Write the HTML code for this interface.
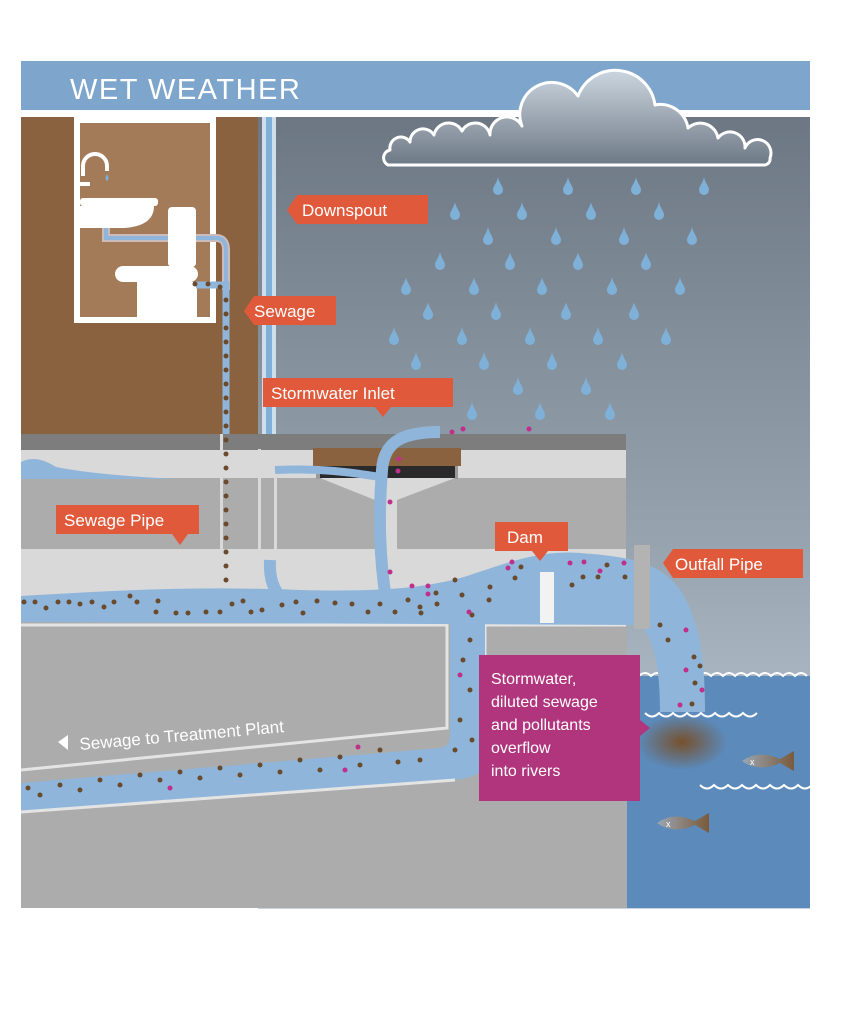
<!DOCTYPE html>
<html><head><meta charset="utf-8"><style>
html,body{margin:0;padding:0;background:#fff;}
svg{display:block;font-family:"Liberation Sans",sans-serif;}
</style></head><body>
<svg width="858" height="1011" viewBox="0 0 858 1011" xmlns="http://www.w3.org/2000/svg">
<defs>
<linearGradient id="sky" x1="0" y1="0" x2="0" y2="1">
<stop offset="0" stop-color="#6c7783"/><stop offset="0.55" stop-color="#98a5b1"/><stop offset="1" stop-color="#c6d3de"/>
</linearGradient>
<radialGradient id="glow" cx="0.5" cy="0.5" r="0.5">
<stop offset="0" stop-color="#7a4a1c" stop-opacity="0.9"/><stop offset="1" stop-color="#7a4a1c" stop-opacity="0"/>
</radialGradient>
<linearGradient id="fish" x1="0" x2="1">
<stop offset="0" stop-color="#9aa6b4"/><stop offset="1" stop-color="#7a5a3a"/>
</linearGradient>
<linearGradient id="cloud" gradientUnits="userSpaceOnUse" x1="0" y1="74" x2="0" y2="165">
<stop offset="0" stop-color="#c8d2dc"/><stop offset="1" stop-color="#6e7986"/>
</linearGradient>
<symbol id="drop" viewBox="0 0 10 18"><path d="M5 0 C6 6 10 9 10 13 A5 5 0 0 1 0 13 C0 9 4 6 5 0Z" fill="#7fb0d8"/></symbol>
</defs>

<rect x="21" y="61" width="789" height="49" fill="#7ea6cc"/>
<text x="70" y="99" font-size="29" fill="#fff" letter-spacing="1.5">WET WEATHER</text>

<rect x="258" y="117" width="552" height="792" fill="url(#sky)"/>
<rect x="627" y="676" width="183" height="232" fill="#5b8abb"/>
<path d="M627 676 q6 -6 12 0 q6 -6 12 0 q6 -6 12 0 q6 -6 12 0 q6 -6 12 0 q6 -6 12 0 q6 -6 12 0 q6 -6 12 0 q6 -6 12 0 q6 -6 12 0 q6 -6 12 0 q6 -6 12 0 q6 -6 12 0 q6 -6 12 0 q6 -6 12 0" fill="none" stroke="#fff" stroke-width="2"/>
<ellipse cx="682" cy="742" rx="45" ry="28" fill="url(#glow)"/>
<path d="M645 713 q7 7 14 0 q7 7 14 0 q7 7 14 0 q7 7 14 0 q7 7 14 0 q7 7 14 0 q7 7 14 0 q7 7 14 0" fill="none" stroke="#fff" stroke-width="2"/>
<path d="M700 785 q7 7 14 0 q7 7 14 0 q7 7 14 0 q7 7 14 0 q7 7 14 0 q7 7 14 0 q7 7 14 0 q7 7 14 0" fill="none" stroke="#fff" stroke-width="2"/>
<g><path d="M742 761 q16 -12 38 -2 l14 -8 v20 l-14 -8 q-22 10 -38 -2z" fill="url(#fish)"/><text x="750" y="765" font-size="9" fill="#fff">x</text></g>
<g><path d="M657 823 q16 -12 38 -2 l14 -8 v20 l-14 -8 q-22 10 -38 -2z" fill="url(#fish)"/><text x="666" y="827" font-size="9" fill="#fff">x</text></g>

<rect x="21" y="117" width="237" height="318" fill="#8a6240"/>
<rect x="77" y="120" width="136" height="200" fill="#a47b58" stroke="#fff" stroke-width="6"/>
<path d="M83 176 v-10 a12 12 0 0 1 24 0 v5" fill="none" stroke="#fff" stroke-width="4"/>
<rect x="80" y="182" width="10" height="4" fill="#fff"/>
<path d="M107 174 q-3 5 0 7 q3 -2 0 -7z" fill="#7fb0d8"/>
<rect x="80" y="198" width="78" height="8" rx="3" fill="#fff"/>
<path d="M80 206 h74 q0 20 -30 22 h-44z" fill="#fff"/>
<path d="M106 228 v10 h110 q10 0 10 12 v40" fill="none" stroke="#cbb" stroke-width="8"/>
<path d="M106 228 v10 h110 q10 0 10 12 v40" fill="none" stroke="#8fb6da" stroke-width="4"/>
<rect x="168" y="207" width="28" height="60" rx="4" fill="#fff"/>
<rect x="115" y="266" width="83" height="16" rx="8" fill="#fff"/>
<path d="M137 282 h60 v35 h-60z" fill="#fff"/>
<path d="M196 285 h30 v330" fill="none" stroke="#8fb6da" stroke-width="7"/>

<rect x="262" y="117" width="14" height="460" fill="#cfdeea"/>
<rect x="266" y="117" width="6" height="470" fill="#7fb0d8"/>

<rect x="21" y="434" width="605" height="16" fill="#7d7d7d"/>
<rect x="21" y="450" width="605" height="28" fill="#d9d9d9"/>
<rect x="21" y="478" width="605" height="71" fill="#acacac"/>
<rect x="21" y="549" width="605" height="72" fill="#d9d9d9"/>
<rect x="21" y="621" width="606" height="287" fill="#acacac"/>
<rect x="258" y="449" width="3" height="172" fill="#d9d9d9"/>
<rect x="220" y="434" width="3" height="187" fill="#d9d9d9"/>
<rect x="274" y="478" width="3" height="71" fill="#d9d9d9"/>
<rect x="394" y="478" width="3" height="71" fill="#d9d9d9"/>
<rect x="313" y="448" width="148" height="18" fill="#8a6240"/>
<rect x="316" y="466" width="142" height="13" fill="#9a9a9a"/>
<rect x="320" y="466" width="135" height="12" fill="#2a2a2a"/>
<path d="M320 478 L375 500 V549 h22 V500 L455 478z" fill="#d9d9d9"/>
<path d="M21 462 q15 -8 35 5 q40 8 120 12 H21z" fill="#8fb6da"/>

<path d="M21 625 H447 V728 L21 770" fill="none" stroke="#e4e4e4" stroke-width="3"/>
<path d="M485 625 H626" stroke="#e4e4e4" stroke-width="3"/>
<path d="M485 625 V655" stroke="#e4e4e4" stroke-width="3"/>

<path d="M386 600 C380 560 378 520 382 470 C384 440 405 432 440 432" fill="none" stroke="#8fb6da" stroke-width="12"/>
<path d="M275 470 C320 468 350 472 386 478" fill="none" stroke="#8fb6da" stroke-width="8"/>
<path d="M270 560 C268 600 290 610 330 608" fill="none" stroke="#8fb6da" stroke-width="12"/>

<path d="M21 596 C120 590 200 586 300 590 C380 592 430 588 470 575 C510 562 540 550 580 553 C620 556 660 560 680 590 C700 620 705 660 705 712 L660 712 C660 670 655 640 640 625 L21 622 Z" fill="#8fb6da"/>
<path d="M450 620 H485 V765 C480 775 470 778 455 780 L21 812 V783 L440 748 C450 746 450 740 450 730 Z" fill="#8fb6da"/>
<path d="M21 812 L455 780" stroke="#e4e4e4" stroke-width="3"/>
<rect x="540" y="572" width="14" height="51" fill="#f2f2f2"/>
<rect x="634" y="545" width="16" height="84" fill="#b3b3b3"/>

<g fill="#6a4a2c">
<circle cx="24" cy="602" r="2.5"/><circle cx="35" cy="602" r="2.5"/><circle cx="46" cy="608" r="2.5"/><circle cx="58" cy="602" r="2.5"/><circle cx="69" cy="602" r="2.5"/><circle cx="80" cy="604" r="2.5"/><circle cx="92" cy="602" r="2.5"/><circle cx="104" cy="607" r="2.5"/><circle cx="114" cy="602" r="2.5"/><circle cx="130" cy="596" r="2.5"/><circle cx="137" cy="602" r="2.5"/><circle cx="158" cy="601" r="2.5"/><circle cx="156" cy="612" r="2.5"/><circle cx="176" cy="613" r="2.5"/><circle cx="188" cy="613" r="2.5"/><circle cx="206" cy="612" r="2.5"/><circle cx="220" cy="612" r="2.5"/><circle cx="232" cy="604" r="2.5"/><circle cx="243" cy="601" r="2.5"/><circle cx="251" cy="612" r="2.5"/><circle cx="262" cy="610" r="2.5"/><circle cx="282" cy="605" r="2.5"/><circle cx="296" cy="602" r="2.5"/><circle cx="303" cy="613" r="2.5"/><circle cx="317" cy="601" r="2.5"/><circle cx="335" cy="603" r="2.5"/><circle cx="352" cy="604" r="2.5"/><circle cx="368" cy="612" r="2.5"/><circle cx="380" cy="604" r="2.5"/><circle cx="395" cy="612" r="2.5"/><circle cx="408" cy="600" r="2.5"/><circle cx="420" cy="607" r="2.5"/><circle cx="436" cy="593" r="2.5"/><circle cx="437" cy="604" r="2.5"/><circle cx="455" cy="580" r="2.5"/><circle cx="462" cy="595" r="2.5"/><circle cx="472" cy="615" r="2.5"/><circle cx="421" cy="613" r="2.5"/><circle cx="489" cy="600" r="2.5"/><circle cx="490" cy="587" r="2.5"/><circle cx="515" cy="578" r="2.5"/><circle cx="521" cy="567" r="2.5"/><circle cx="572" cy="585" r="2.5"/><circle cx="583" cy="577" r="2.5"/><circle cx="598" cy="577" r="2.5"/><circle cx="607" cy="565" r="2.5"/><circle cx="625" cy="577" r="2.5"/><circle cx="660" cy="625" r="2.5"/><circle cx="668" cy="640" r="2.5"/><circle cx="694" cy="657" r="2.5"/><circle cx="700" cy="666" r="2.5"/><circle cx="695" cy="683" r="2.5"/><circle cx="692" cy="704" r="2.5"/>
<circle cx="470" cy="640" r="2.5"/><circle cx="463" cy="660" r="2.5"/><circle cx="470" cy="690" r="2.5"/><circle cx="460" cy="720" r="2.5"/><circle cx="472" cy="740" r="2.5"/><circle cx="455" cy="750" r="2.5"/><circle cx="420" cy="760" r="2.5"/><circle cx="398" cy="762" r="2.5"/><circle cx="380" cy="750" r="2.5"/><circle cx="360" cy="765" r="2.5"/><circle cx="340" cy="757" r="2.5"/><circle cx="320" cy="770" r="2.5"/><circle cx="300" cy="760" r="2.5"/><circle cx="280" cy="772" r="2.5"/><circle cx="260" cy="765" r="2.5"/><circle cx="240" cy="775" r="2.5"/><circle cx="220" cy="768" r="2.5"/><circle cx="200" cy="778" r="2.5"/><circle cx="180" cy="772" r="2.5"/><circle cx="160" cy="780" r="2.5"/><circle cx="140" cy="775" r="2.5"/><circle cx="120" cy="785" r="2.5"/><circle cx="100" cy="780" r="2.5"/><circle cx="80" cy="790" r="2.5"/><circle cx="60" cy="785" r="2.5"/><circle cx="40" cy="795" r="2.5"/><circle cx="28" cy="788" r="2.5"/>
<circle cx="226" cy="300" r="2.5"/><circle cx="226" cy="314" r="2.5"/><circle cx="226" cy="328" r="2.5"/><circle cx="226" cy="342" r="2.5"/><circle cx="226" cy="356" r="2.5"/><circle cx="226" cy="370" r="2.5"/><circle cx="226" cy="384" r="2.5"/><circle cx="226" cy="398" r="2.5"/><circle cx="226" cy="412" r="2.5"/><circle cx="226" cy="426" r="2.5"/><circle cx="226" cy="440" r="2.5"/><circle cx="226" cy="454" r="2.5"/><circle cx="226" cy="468" r="2.5"/><circle cx="226" cy="482" r="2.5"/><circle cx="226" cy="496" r="2.5"/><circle cx="226" cy="510" r="2.5"/><circle cx="226" cy="524" r="2.5"/><circle cx="226" cy="538" r="2.5"/><circle cx="226" cy="552" r="2.5"/><circle cx="226" cy="566" r="2.5"/><circle cx="226" cy="580" r="2.5"/><circle cx="195" cy="284" r="2.5"/><circle cx="208" cy="284" r="2.5"/><circle cx="220" cy="287" r="2.5"/>
</g>
<g fill="#c0308a">
<circle cx="452" cy="432" r="2.5"/><circle cx="463" cy="429" r="2.5"/><circle cx="529" cy="429" r="2.5"/><circle cx="399" cy="459" r="2.5"/><circle cx="398" cy="471" r="2.5"/><circle cx="390" cy="502" r="2.5"/><circle cx="390" cy="572" r="2.5"/><circle cx="412" cy="586" r="2.5"/><circle cx="428" cy="586" r="2.5"/><circle cx="428" cy="594" r="2.5"/><circle cx="469" cy="612" r="2.5"/><circle cx="508" cy="568" r="2.5"/><circle cx="512" cy="562" r="2.5"/><circle cx="570" cy="563" r="2.5"/><circle cx="584" cy="562" r="2.5"/><circle cx="600" cy="571" r="2.5"/><circle cx="624" cy="563" r="2.5"/><circle cx="686" cy="630" r="2.5"/><circle cx="686" cy="670" r="2.5"/><circle cx="702" cy="690" r="2.5"/><circle cx="680" cy="705" r="2.5"/><circle cx="460" cy="675" r="2.5"/><circle cx="358" cy="747" r="2.5"/><circle cx="170" cy="788" r="2.5"/><circle cx="345" cy="770" r="2.5"/>
</g>

<!-- cloud -->
<path d="M388 165 A8 8 0 0 1 390 150 A11 11 0 0 1 410 142 A13 13 0 0 1 434 135 A15 15 0 0 1 462 131 A15 15 0 0 1 490 135 A17 17 0 0 1 522 126 A32 32 0 0 1 578 96 A40 40 0 0 1 655 105 A28 28 0 0 1 688 128 A18 18 0 0 1 718 138 A15 15 0 0 1 745 148 A13 13 0 0 1 770 158 A6 6 0 0 1 765 165 Z" fill="url(#cloud)" stroke="#fff" stroke-width="3" stroke-linejoin="round"/>

<g>
<use href="#drop" x="493" y="177" width="10" height="18"/><use href="#drop" x="563" y="177" width="10" height="18"/><use href="#drop" x="631" y="177" width="10" height="18"/><use href="#drop" x="699" y="177" width="10" height="18"/>
<use href="#drop" x="450" y="202" width="10" height="18"/><use href="#drop" x="517" y="202" width="10" height="18"/><use href="#drop" x="586" y="202" width="10" height="18"/><use href="#drop" x="654" y="202" width="10" height="18"/>
<use href="#drop" x="483" y="227" width="10" height="18"/><use href="#drop" x="551" y="227" width="10" height="18"/><use href="#drop" x="619" y="227" width="10" height="18"/><use href="#drop" x="687" y="227" width="10" height="18"/>
<use href="#drop" x="435" y="252" width="10" height="18"/><use href="#drop" x="505" y="252" width="10" height="18"/><use href="#drop" x="573" y="252" width="10" height="18"/><use href="#drop" x="641" y="252" width="10" height="18"/>
<use href="#drop" x="401" y="277" width="10" height="18"/><use href="#drop" x="469" y="277" width="10" height="18"/><use href="#drop" x="537" y="277" width="10" height="18"/><use href="#drop" x="607" y="277" width="10" height="18"/><use href="#drop" x="675" y="277" width="10" height="18"/>
<use href="#drop" x="423" y="302" width="10" height="18"/><use href="#drop" x="491" y="302" width="10" height="18"/><use href="#drop" x="561" y="302" width="10" height="18"/><use href="#drop" x="629" y="302" width="10" height="18"/>
<use href="#drop" x="389" y="327" width="10" height="18"/><use href="#drop" x="457" y="327" width="10" height="18"/><use href="#drop" x="525" y="327" width="10" height="18"/><use href="#drop" x="593" y="327" width="10" height="18"/><use href="#drop" x="661" y="327" width="10" height="18"/>
<use href="#drop" x="411" y="352" width="10" height="18"/><use href="#drop" x="479" y="352" width="10" height="18"/><use href="#drop" x="547" y="352" width="10" height="18"/><use href="#drop" x="617" y="352" width="10" height="18"/>
<use href="#drop" x="513" y="377" width="10" height="18"/><use href="#drop" x="581" y="377" width="10" height="18"/>
<use href="#drop" x="467" y="402" width="10" height="18"/><use href="#drop" x="535" y="402" width="10" height="18"/><use href="#drop" x="605" y="402" width="10" height="18"/>
</g>

<g fill="#e0593a">
<path d="M297 195 H428 V224 H297 L287 210Z"/>
<path d="M254 296 H336 V325 H254 L244 311Z"/>
<path d="M263 378 H453 V407 H391 L383 417 L375 407 H263Z"/>
<path d="M56 505 H199 V534 H188 L180 545 L172 534 H56Z"/>
<path d="M495 522 H568 V551 H548 L540 561 L532 551 H495Z"/>
<path d="M673 549 H803 V578 H673 L663 563Z"/>
</g>
<g fill="#fff" font-size="17">
<text x="302" y="216">Downspout</text>
<text x="254" y="317">Sewage</text>
<text x="271" y="399">Stormwater Inlet</text>
<text x="64" y="526">Sewage Pipe</text>
<text x="507" y="543">Dam</text>
<text x="675" y="570">Outfall Pipe</text>
</g>
<text x="80" y="750" font-size="17" fill="#fff" transform="rotate(-5 80 750)">Sewage to Treatment Plant</text>
<path d="M58 742 L68 735 V750Z" fill="#fff"/>

<path d="M479 655 H640 V720 L650 728 L640 736 V801 H479Z" fill="#b0357c"/>
<g fill="#fff" font-size="16">
<text x="491" y="684">Stormwater,</text>
<text x="491" y="707">diluted sewage</text>
<text x="491" y="730">and pollutants</text>
<text x="491" y="753">overflow</text>
<text x="491" y="776">into rivers</text>
</g>
</svg>
</body></html>
